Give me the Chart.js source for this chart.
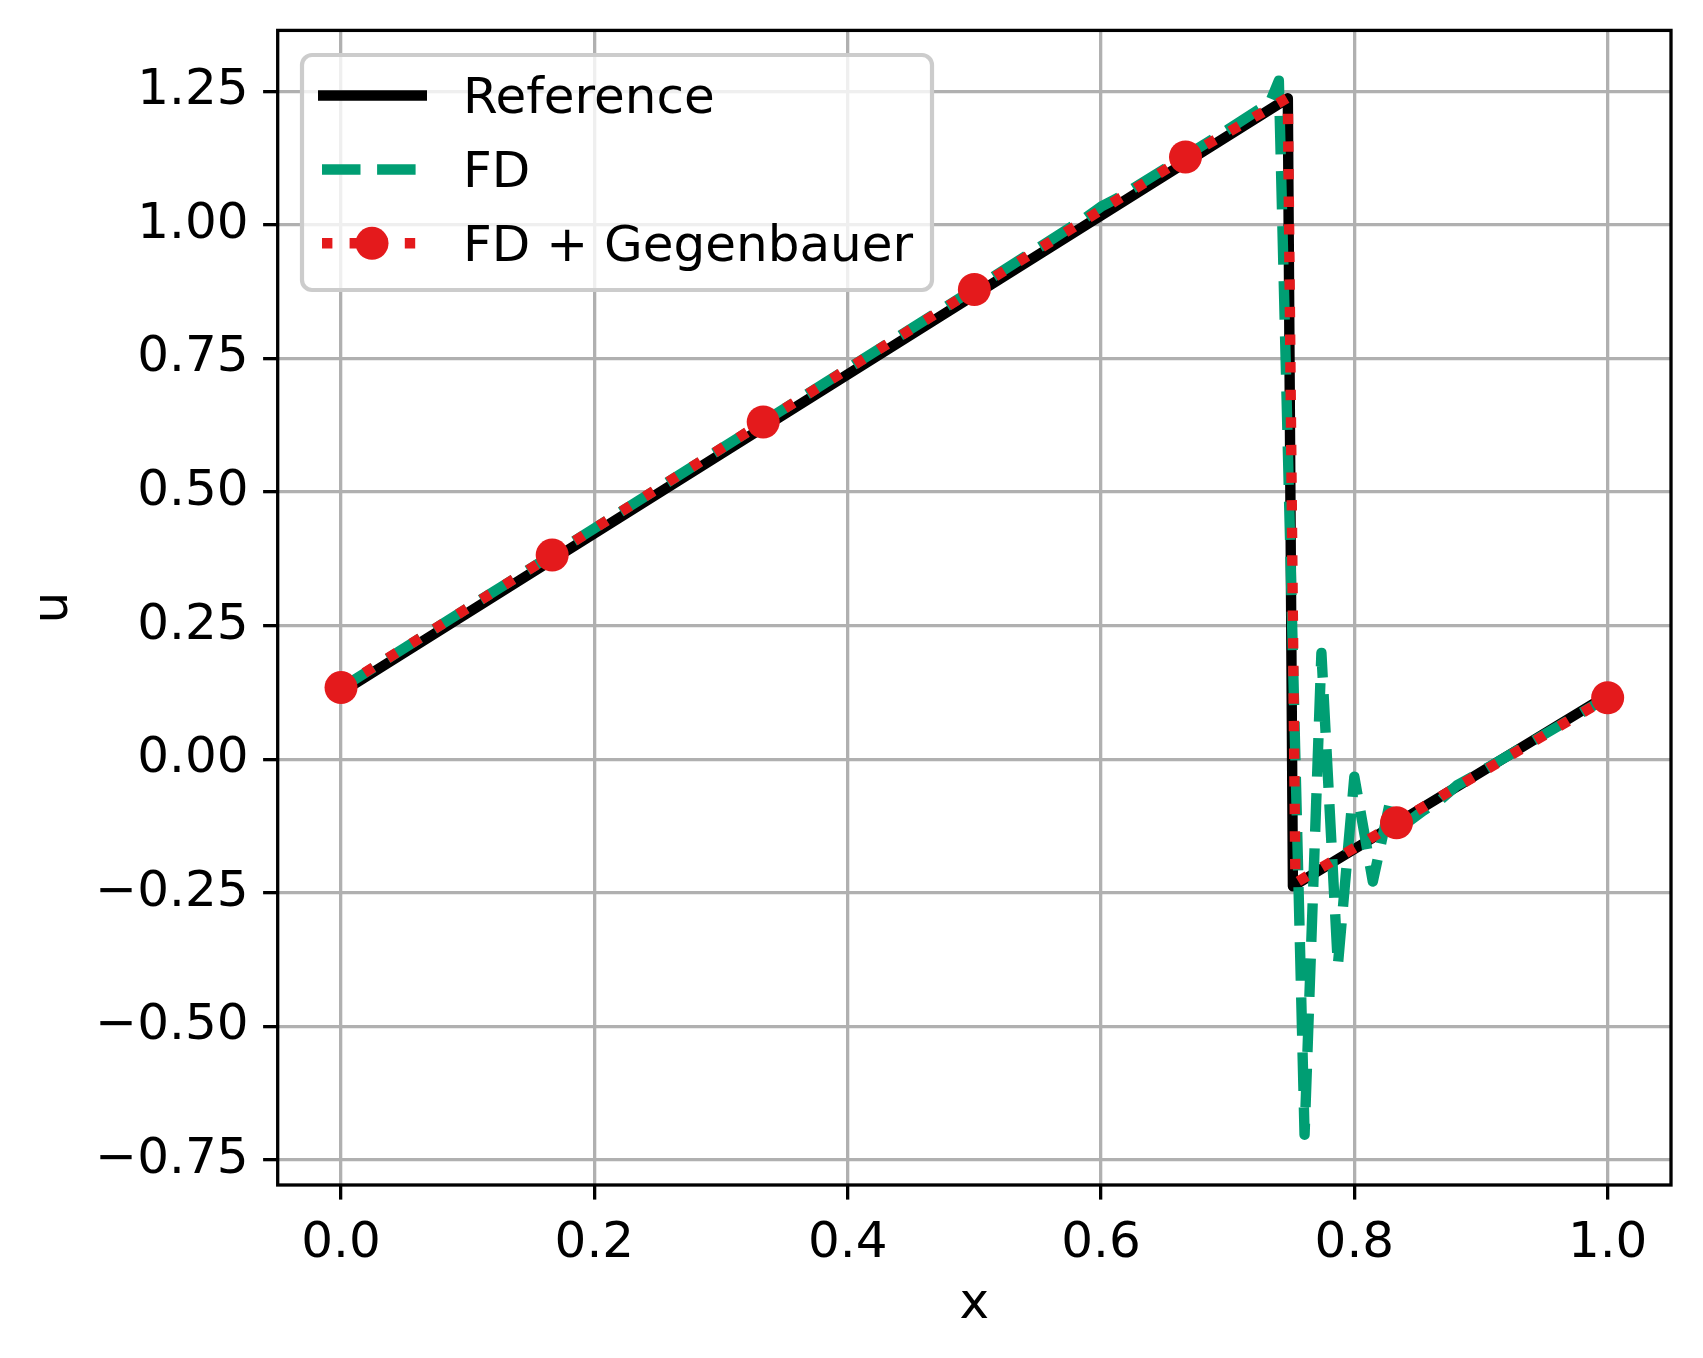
<!DOCTYPE html>
<html><head><meta charset="utf-8">
<script src="https://cdn.jsdelivr.net/npm/chart.js@4.4.1/dist/chart.umd.min.js"></script>
<style>html,body{margin:0;padding:0;background:#fff;}canvas{display:block;}</style>
</head><body>
<canvas id="c" width="1703" height="1358"></canvas>
<script>
// ---- data ----
const xTicks = [0.0, 0.2, 0.4, 0.6, 0.8, 1.0];
const yTicks = [-0.75, -0.5, -0.25, 0.0, 0.25, 0.5, 0.75, 1.0, 1.25];

const seriesNames = ["Reference", "FD", "FD + Gegenbauer"];

const refX = [0.0, 0.7475, 0.7515, 1.0];
const refU = [0.125, 1.237, -0.238, 0.120];

const fdX = [0.0, 0.1, 0.2, 0.3, 0.4, 0.5, 0.587, 0.600, 0.613, 0.700, 0.7333, 0.7404,
             0.7607, 0.7740, 0.7870, 0.8000, 0.8146, 0.8280, 0.8410, 0.8540, 0.8680,
             0.8810, 0.8940, 0.9080, 0.9210, 1.0];
const fdU = [0.133, 0.283, 0.432, 0.581, 0.731, 0.880, 1.012, 1.034, 1.050, 1.178, 1.229, 1.270,
             -0.703, 0.199, -0.386, -0.033, -0.229, -0.082, -0.120, -0.097, -0.076,
             -0.049, -0.032, -0.012, 0.006, 0.116];

const gegX = [0.0, 0.1667, 0.3333, 0.5, 0.6667, 0.7475, 0.7535, 0.8333, 1.0];
const gegU = [0.134, 0.382, 0.631, 0.879, 1.127, 1.238, -0.232, -0.119, 0.115];
const gegMarked = [1, 1, 1, 1, 1, 0, 0, 1, 1];

// ---- styles ----
const BLACK = '#000000', GREEN = '#009e73', RED = '#e41a1c';
const FONT = "'DejaVu Sans', 'Liberation Sans', sans-serif";
const LW = 10.4;

const toPts = (xs, ys) => xs.map((x, i) => ({x: x, y: ys[i]}));
const fmtX = v => v.toFixed(1).replace('-', '\u2212');
const fmtY = v => (Math.abs(v) < 1e-9 ? 0 : v).toFixed(2).replace('-', '\u2212');

const framePlugin = {
  id: 'frame',
  afterDatasetsDraw(chart) {
    const {ctx, chartArea: a} = chart;
    ctx.save();
    ctx.strokeStyle = '#000';
    ctx.lineWidth = 3.3;
    ctx.lineJoin = 'miter';
    ctx.strokeRect(a.left, a.top, a.right - a.left, a.bottom - a.top);
    ctx.restore();
  }
};

const legendPlugin = {
  id: 'mplLegend',
  afterDraw(chart) {
    const ctx = chart.ctx;
    const bx = 302, by = 55, bw = 630, bh = 235, r = 10;
    ctx.save();
    ctx.beginPath();
    ctx.roundRect(bx, by, bw, bh, r);
    ctx.fillStyle = 'rgba(255,255,255,0.8)';
    ctx.fill();
    ctx.strokeStyle = '#cccccc';
    ctx.lineWidth = 4.2;
    ctx.stroke();

    const rows = [95.5, 169.5, 243.3];
    const ds = chart.data.datasets;
    ctx.lineCap = 'butt';
    ctx.strokeStyle = ds[0].borderColor; ctx.lineWidth = ds[0].borderWidth;
    ctx.setLineDash([]);
    ctx.beginPath(); ctx.moveTo(318, rows[0]); ctx.lineTo(427, rows[0]); ctx.stroke();
    ctx.strokeStyle = ds[1].borderColor; ctx.lineWidth = ds[1].borderWidth;
    ctx.setLineDash(ds[1].borderDash);
    ctx.beginPath(); ctx.moveTo(322, rows[1]); ctx.lineTo(417, rows[1]); ctx.stroke();
    ctx.strokeStyle = ds[2].borderColor; ctx.lineWidth = ds[2].borderWidth;
    ctx.setLineDash(ds[2].borderDash);
    ctx.beginPath(); ctx.moveTo(322, rows[2]); ctx.lineTo(417, rows[2]); ctx.stroke();
    ctx.setLineDash([]);
    ctx.fillStyle = RED;
    ctx.beginPath(); ctx.arc(372, rows[2], 16.5, 0, Math.PI * 2); ctx.fill();

    ctx.fillStyle = '#000';
    ctx.font = '50px ' + FONT;
    ctx.textAlign = 'left';
    ctx.textBaseline = 'alphabetic';
    seriesNames.forEach((t, i) => ctx.fillText(t, 463, rows[i] + 17.5));
    ctx.restore();
  }
};

new Chart(document.getElementById('c'), {
  type: 'scatter',
  data: {
    datasets: [
      { label: seriesNames[0], data: toPts(refX, refU), showLine: true,
        borderColor: BLACK, backgroundColor: BLACK, borderWidth: LW,
        borderCapStyle: 'square', borderJoinStyle: 'round',
        pointRadius: 0, tension: 0, order: 3 },
      { label: seriesNames[1], data: toPts(fdX, fdU), showLine: true,
        borderColor: GREEN, backgroundColor: GREEN, borderWidth: LW,
        borderDash: [38.5, 16.6], borderCapStyle: 'butt', borderJoinStyle: 'round',
        pointRadius: 0, tension: 0, order: 2 },
      { label: seriesNames[2], data: toPts(gegX, gegU), showLine: true,
        borderColor: RED, backgroundColor: RED, borderWidth: LW,
        borderDash: [10.4, 17.2], borderCapStyle: 'butt', borderJoinStyle: 'round',
        pointRadius: gegMarked.map(m => m ? 16.5 : 0), pointBorderWidth: 0,
        pointBackgroundColor: RED, pointHoverRadius: 0, tension: 0, order: 1 }
    ]
  },
  options: {
    responsive: false, animation: false, devicePixelRatio: 1,
    events: [],
    layout: { padding: { top: 30.4, right: 32, left: 0, bottom: 0 } },
    plugins: { legend: { display: false }, tooltip: { enabled: false } },
    scales: {
      x: {
        type: 'linear', min: -0.05, max: 1.05,
        afterBuildTicks: s => { s.ticks = xTicks.map(v => ({ value: v })); },
        afterFit: s => { s.height = 173; s.paddingLeft = 0; s.paddingRight = 0; },
        ticks: { callback: v => fmtX(v), font: { family: FONT, size: 50 }, color: '#000',
                 padding: 14.6, maxRotation: 0, autoSkip: false },
        grid: { color: '#b0b0b0', lineWidth: 3.3, tickColor: '#000', tickWidth: 3.3, tickLength: 14.6 },
        border: { display: false },
        title: { display: true, text: 'x', font: { family: FONT, size: 50 }, color: '#000',
                 padding: { top: 0, bottom: 23 } }
      },
      y: {
        type: 'linear', min: -0.797, max: 1.364,
        afterBuildTicks: s => { s.ticks = yTicks.map(v => ({ value: v })); },
        afterFit: s => { s.width = 277.7; s.paddingTop = 0; s.paddingBottom = 0; },
        ticks: { callback: v => fmtY(v), font: { family: FONT, size: 50 }, color: '#000',
                 padding: 14.6, autoSkip: false },
        grid: { color: '#b0b0b0', lineWidth: 3.3, tickColor: '#000', tickWidth: 3.3, tickLength: 14.6 },
        border: { display: false },
        title: { display: true, text: 'u', font: { family: FONT, size: 50 }, color: '#000',
                 padding: { top: 24, bottom: 0 } }
      }
    }
  },
  plugins: [framePlugin, legendPlugin]
});
</script>
</body></html>
